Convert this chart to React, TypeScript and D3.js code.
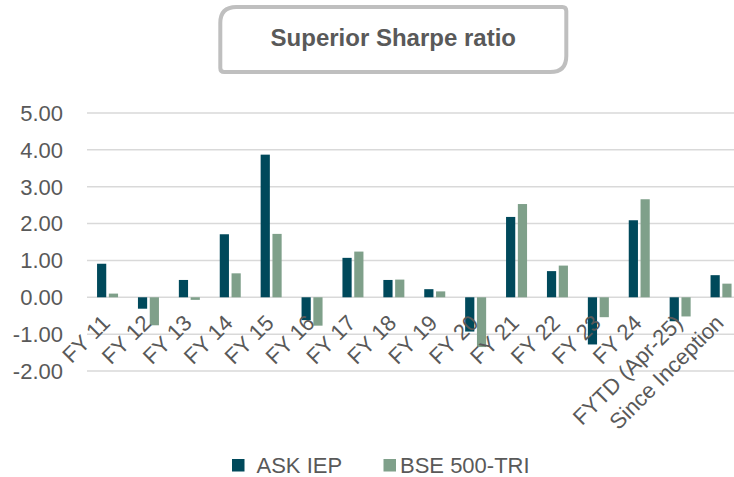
import React, { useEffect, useRef } from 'react'
import * as d3 from 'd3'

const categories = [
  'FY 11', 'FY 12', 'FY 13', 'FY 14', 'FY 15', 'FY 16', 'FY 17', 'FY 18',
  'FY 19', 'FY 20', 'FY 21', 'FY 22', 'FY 23', 'FY 24', 'FYTD (Apr-25)', 'Since Inception',
]
const askIep = [0.91, -0.31, 0.47, 1.71, 3.87, -0.62, 1.07, 0.47, 0.22, -0.93, 2.18, 0.71, -1.28, 2.09, -0.65, 0.6]
const bse500 = [0.1, -0.76, -0.07, 0.65, 1.72, -0.77, 1.24, 0.48, 0.16, -1.35, 2.53, 0.86, -0.54, 2.66, -0.52, 0.37]
const yTicks = [-2, -1, 0, 1, 2, 3, 4, 5]
const seriesNames = ['ASK IEP', 'BSE 500-TRI']
const colors = ['#00495B', '#7FA08A']

const FONT = '"Liberation Sans", Arial, sans-serif'
const TEXT = '#595959'

export default function App() {
  const ref = useRef(null)

  useEffect(() => {
    const svg = d3.select(ref.current)
    svg.selectAll('*').remove()

    const left = 87
    const x = d3.scaleBand().domain(categories).range([left, left + 16 * 40.9]).padding(0)
    const y = d3.scaleLinear().domain([-2, 5]).range([371, 113])

    // title box, rounded on two diagonal corners
    const bx0 = 220.3, bx1 = 566.3, by0 = 7, by1 = 72
    const rBig = 16, rSmall = 4
    const p = d3.path()
    p.moveTo(bx0 + rBig, by0)
    p.lineTo(bx1 - rSmall, by0)
    p.quadraticCurveTo(bx1, by0, bx1, by0 + rSmall)
    p.lineTo(bx1, by1 - rBig)
    p.quadraticCurveTo(bx1, by1, bx1 - rBig, by1)
    p.lineTo(bx0 + rSmall, by1)
    p.quadraticCurveTo(bx0, by1, bx0, by1 - rSmall)
    p.lineTo(bx0, by0 + rBig)
    p.quadraticCurveTo(bx0, by0, bx0 + rBig, by0)
    p.closePath()
    svg.append('path')
      .attr('d', p.toString())
      .attr('fill', '#fff')
      .attr('stroke', '#BFBFBF')
      .attr('stroke-width', 4)

    svg.append('text')
      .attr('x', (bx0 + bx1) / 2)
      .attr('y', 46)
      .attr('text-anchor', 'middle')
      .attr('font-family', FONT)
      .attr('font-weight', 'bold')
      .attr('font-size', 24)
      .attr('fill', TEXT)
      .text('Superior Sharpe ratio')

    // gridlines
    svg.append('g')
      .selectAll('line')
      .data(yTicks)
      .enter()
      .append('line')
      .attr('x1', left)
      .attr('x2', 734)
      .attr('y1', (d) => y(d))
      .attr('y2', (d) => y(d))
      .attr('stroke', '#D9D9D9')
      .attr('stroke-width', 1.5)

    // y labels
    svg.append('g')
      .selectAll('text')
      .data(yTicks)
      .enter()
      .append('text')
      .attr('x', 63)
      .attr('y', (d) => y(d))
      .attr('dy', '0.36em')
      .attr('text-anchor', 'end')
      .attr('font-family', FONT)
      .attr('font-size', 22)
      .attr('fill', TEXT)
      .text((d) => d.toFixed(2))

    // bars
    const barW = 9.2
    const offsets = [-10.4, 1.4]
    ;[askIep, bse500].forEach((vals, s) => {
      svg.append('g')
        .selectAll('rect')
        .data(vals)
        .enter()
        .append('rect')
        .attr('x', (d, i) => x(categories[i]) + x.bandwidth() / 2 + offsets[s])
        .attr('y', (d) => y(Math.max(0, d)))
        .attr('width', barW)
        .attr('height', (d) => Math.abs(y(d) - y(0)))
        .attr('fill', colors[s])
    })

    // x labels, rotated
    svg.append('g')
      .selectAll('text')
      .data(categories)
      .enter()
      .append('text')
      .attr('transform', (d) => `translate(${x(d) + x.bandwidth() / 2 + 4},${y(0) + 27}) rotate(-45)`)
      .attr('text-anchor', 'end')
      .attr('font-family', FONT)
      .attr('font-size', 22)
      .attr('fill', TEXT)
      .text((d) => d)

    // legend
    const legendX = [232, 383.5]
    const lg = svg.append('g')
    seriesNames.forEach((name, i) => {
      lg.append('rect')
        .attr('x', legendX[i])
        .attr('y', 459)
        .attr('width', 12.5)
        .attr('height', 12.5)
        .attr('fill', colors[i])
      lg.append('text')
        .attr('x', legendX[i] + (i === 0 ? 24.5 : 16.5))
        .attr('y', 472.5)
        .attr('font-family', FONT)
        .attr('font-size', 22)
        .attr('fill', TEXT)
        .text(name)
    })
  }, [])

  return (
    <svg
      ref={ref}
      width={734}
      height={477}
      style={{ position: 'absolute', left: 0, top: 0, background: '#fff' }}
    />
  )
}
